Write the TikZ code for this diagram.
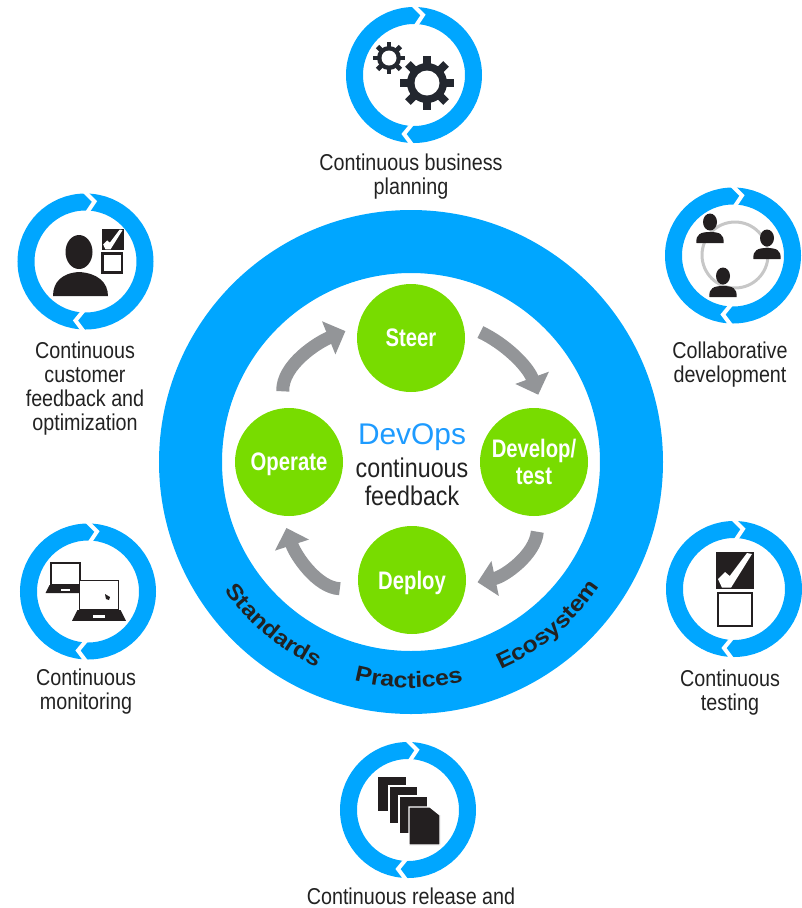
\documentclass[tikz,border=0pt]{standalone}
\usepackage{fontspec}
\setmainfont[FakeStretch=0.86]{Liberation Sans}
\newfontfamily\ringfam[FakeStretch=1.12]{Liberation Sans}
\newfontfamily\greenfam[FakeStretch=0.80]{Liberation Sans}
\newfontfamily\devfam{Liberation Sans}
\usetikzlibrary{arrows.meta,decorations.text}
\definecolor{ibmblue}{HTML}{00A6FF}
\definecolor{devblue}{HTML}{1E9BFF}
\definecolor{leaf}{HTML}{78DC00}
\definecolor{flowgray}{HTML}{939598}
\definecolor{ink}{HTML}{231F20}
\definecolor{gearink}{HTML}{23272F}
\definecolor{txt}{HTML}{222222}
\def\px{0.75pt}
\tikzset{
  smallring/.style={circle,draw=ibmblue,line width=17*\px,minimum size=119*\px,inner sep=0pt,outer sep=0pt},
  bigring/.style={circle,draw=ibmblue,line width=63*\px,minimum size=441*\px,inner sep=0pt,outer sep=0pt},
  notch/.style={draw=white,line width=4*\px,line join=miter},
  stage/.style={circle,fill=leaf,minimum size=108*\px,inner sep=0pt,outer sep=0pt,text=white,align=center,
     font=\greenfam\bfseries\fontsize{19}{20.5}\selectfont},
  caption/.style={align=center,text=txt,inner sep=0pt,font=\fontsize{17.2}{18}\selectfont},
  middle/.style={align=center,text=txt,inner sep=0pt,font=\fontsize{20.3}{21}\selectfont},
  flow/.style={draw=flowgray,line width=13*\px,-{Triangle[length=13.5pt,width=26pt]}},
  ringword/.style={decorate,decoration={text along path,text align=center,text={|\ringfam\bfseries\fontsize{16.6}{18}\selectfont\color{txt}|#1}}},
  person/.pic={
    \fill[ink] (0,0) ellipse[x radius=7,y radius=8.5];
    \fill[ink] (-13.5,21) .. controls (-14.5,12) and (-9,10) .. (0,10) .. controls (9,10) and (14.5,12) .. (13.5,21) -- cycle;
  },
  gear/.pic={
    \fill[gearink] (0,0) circle[radius=20];
    \foreach \a in {0,45,90,135}{\fill[gearink,rotate=\a] (-4,-27) rectangle (4,27);}
    \fill[white] (0,0) circle[radius=12.5];
  },
  ticked/.pic={
    \fill[ink] (0,0) rectangle (38,37);
    \fill[white] (2,27) -- (9,20) -- (13.7,24) -- (31,1) -- (36,2) -- (15,35.7) -- (6,35.7) -- cycle;
  },
  unticked/.pic={
    \draw[ink,fill=white,line width=2.5*\px] (1.2,1.2) rectangle (35,34);
  },
  laptop/.pic={
    \draw[ink,fill=white,line width=1.5*\px] (-14.5,-22) rectangle (14.5,0);
    \fill[ink] (-16,0) -- (16,0) -- (20,8) -- (-20,8) -- cycle;
    \fill[white] (-4.5,4) rectangle (4.5,6);
  },
  sheet/.style={fill=ink,draw=white,line width=1.3*\px},
}
\newcommand{\zigzag}[1]{%
  \draw[notch] ([shift={(-2,-71)}]#1.center) -- ([shift={(9,-60)}]#1.center) -- ([shift={(1,-48)}]#1.center);
  \draw[notch] ([shift={(-1,48)}]#1.center) -- ([shift={(-10,59)}]#1.center) -- ([shift={(-1,71)}]#1.center);
}
\begin{document}
\begin{tikzpicture}[x=0.75pt,y=-0.75pt]
\useasboundingbox (0,0) rectangle (802,908);
% big ring
\node[bigring] (big) at (411,462) {};
\path[ringword=Standards] ([shift={(150:226)}]big.center) arc[start angle=150,end angle=110,radius=226];
\path[ringword=Practices] ([shift={(110.6:226)}]big.center) arc[start angle=110.6,end angle=70.6,radius=226];
\path[ringword=Ecosystem] ([shift={(70:226)}]big.center) arc[start angle=70,end angle=30,radius=226];
% stages
\node[stage] (steer) at (411,338) {Steer};
\node[stage] (develop) at (534,462) {Develop/\\test};
\node[stage,text depth=0pt] (deploy) at (412,580) {Deploy};
\node[stage,text depth=0pt] (operate) at (289,462) {Operate};
\draw[flow,shorten <=19*\px,shorten >=15*\px] (steer.15) to[out=-25,in=110] (develop.80);
\draw[flow,shorten <=16*\px,shorten >=12*\px] (develop.-85) to[out=-95,in=12] (deploy.-5);
\draw[flow,shorten <=19*\px,shorten >=13*\px] (deploy.190) to[out=178,in=-72] (operate.-97);
\draw[flow,shorten <=17*\px,shorten >=14*\px] (operate.96) to[out=92,in=-158] (steer.167);
% centre
\node[middle,text=devblue,font=\devfam\fontsize{22.4}{24}\selectfont] (dev) at (412,437) {DevOps};
\node[middle] (fb) at (412,482) {continuous\\feedback};
% small rings
\node[smallring] (plan) at (414,75) {};
\node[smallring] (collab) at (733,255.5) {};
\node[smallring] (test) at (734,589) {};
\node[smallring] (rel) at (408,810) {};
\node[smallring] (mon) at (88,591.5) {};
\node[smallring] (cust) at (85.5,261.5) {};
\zigzag{plan}\zigzag{collab}\zigzag{test}\zigzag{rel}\zigzag{mon}\zigzag{cust}
% captions
\node[caption] (tplan) at (411,177) {Continuous business\\planning};
\node[caption] (tcollab) at (730,365) {Collaborative\\development};
\node[caption] (ttest) at (730,693) {Continuous\\testing};
\node[caption] (trel) at (411,896) {Continuous release and};
\node[caption] (tmon) at (86,692) {Continuous\\monitoring};
\node[caption] (tcust) at (85,389) {Continuous\\customer\\feedback and\\optimization};
% gears
\pic at (427,83) {gear};
\pic[scale=0.6] at (389,58) {gear};
% customer
\fill[ink] (79,252) ellipse[x radius=13.5,y radius=17];
\fill[ink] (53,296) .. controls (53,282) and (62,273) .. (79,272) .. controls (97,273) and (108,282) .. (108,296) -- cycle;
\pic[scale=0.57] at (102,229) {ticked};
\pic[scale=0.57] at (102,253) {unticked};
% collaboration
\draw[color=black!22,line width=3*\px] (735,255) circle[radius=33];
\pic at (710,222) {person};
\pic at (767,238) {person};
\pic at (723,276) {person};
% testing
\pic at (716,552) {ticked};
\pic at (717,592) {unticked};
% monitoring
\pic at (65.5,585) {laptop};
\pic[scale=1.35] at (99,610) {laptop};
\fill[ink] (105,594) -- (110,597) -- (109,600) -- (106,599) -- cycle;
% release
\path[sheet] (377,776) rectangle (407,812);
\path[sheet] (389,786) rectangle (418,824);
\path[sheet] (399,796) rectangle (428,834);
\path[sheet] (409,807) -- (430,807) -- (440,815) -- (440,845) -- (409,845) -- cycle;
\end{tikzpicture}
\end{document}
